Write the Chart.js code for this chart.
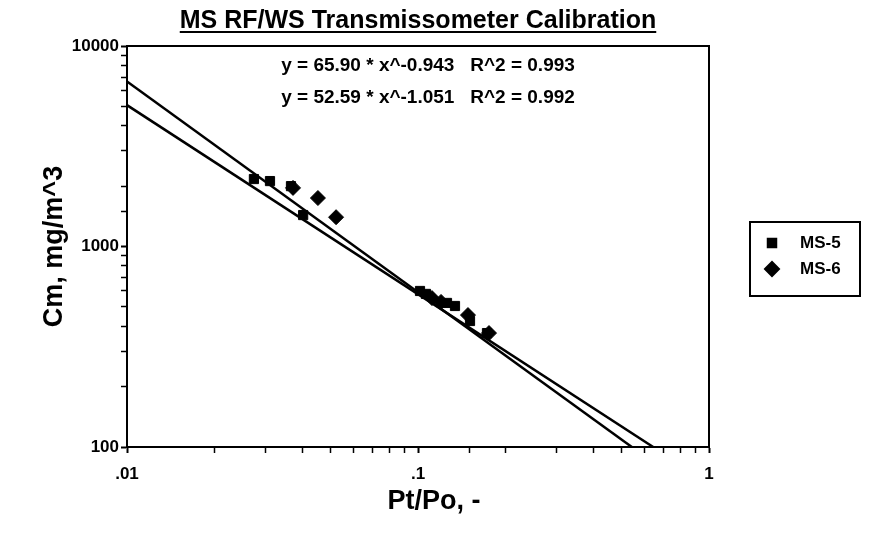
<!DOCTYPE html>
<html>
<head>
<meta charset="utf-8">
<script src="https://cdn.jsdelivr.net/npm/chart.js@4/dist/chart.umd.min.js"></script>
<style>
  html, body { margin: 0; padding: 0; background: #fff; }
</style>
</head>
<body>
<canvas id="myChart" width="872" height="539"></canvas>
<script>
const chartTitle = 'MS RF/WS Transmissometer Calibration';
const xTitle = 'Pt/Po, -';
const yTitle = 'Cm, mg/m^3';
const seriesNames = ['MS-5', 'MS-6'];

// MS-5 (squares)
const ms5X = [0.0273, 0.0310, 0.0366, 0.0403, 0.1016, 0.1065, 0.1258, 0.1340, 0.1509, 0.1726];
const ms5Y = [2170, 2120, 2000, 1435, 600, 580, 523, 505, 425, 370];
// MS-6 (diamonds)
const ms6X = [0.0372, 0.0453, 0.0523, 0.1117, 0.1200, 0.1485, 0.1754];
const ms6Y = [1960, 1745, 1400, 553, 529, 455, 370];

// fitted lines, endpoints
const fit1X = [0.01, 0.643];
const fit1Y = [5070, 100];
const fit2X = [0.01, 0.543];
const fit2Y = [6650, 100];
const fitLabels = ['y = 65.90 * x^-0.943   R^2 = 0.993', 'y = 52.59 * x^-1.051   R^2 = 0.992'];

const xTickValues = [0.01, 0.1, 1];
const xTickLabels = ['.01', '.1', '1'];
const yTickValues = [100, 1000, 10000];
const yTickLabels = ['100', '1000', '10000'];

const FONT = 'Liberation Sans, Arial, Helvetica, sans-serif';

function toPoints(xs, ys) {
    return xs.map((x, i) => ({ x: x, y: ys[i] }));
}

function decadeLabel(value, vals, labels) {
    for (let i = 0; i < vals.length; i++) {
        if (Math.abs(Math.log10(value) - Math.log10(vals[i])) < 1e-6) return labels[i];
    }
    return '';
}

function isDecade(value) {
    const lg = Math.log10(value);
    return Math.abs(lg - Math.round(lg)) < 1e-6;
}

const extras = {
    id: 'extras',
    afterDraw(chart) {
        const ctx = chart.ctx;
        const a = chart.chartArea;
        const cx = (a.left + a.right) / 2;
        const cy = (a.top + a.bottom) / 2;
        ctx.save();
        // frame
        ctx.strokeStyle = '#000';
        ctx.lineWidth = 2;
        ctx.strokeRect(a.left, a.top, a.right - a.left, a.bottom - a.top);

        // title, underlined
        ctx.fillStyle = '#000';
        ctx.font = 'bold 25px ' + FONT;
        ctx.textAlign = 'center';
        ctx.textBaseline = 'alphabetic';
        const ty = a.top - 18;
        ctx.fillText(chartTitle, cx, ty);
        const tw = ctx.measureText(chartTitle).width;
        ctx.fillRect(cx - tw / 2, ty + 3, tw, 2);

        // equations
        ctx.font = 'bold 19px ' + FONT;
        ctx.textBaseline = 'middle';
        ctx.fillText(fitLabels[0], cx + 10, a.top + 20);
        ctx.fillText(fitLabels[1], cx + 10, a.top + 52);

        // axis titles
        ctx.font = 'bold 27px ' + FONT;
        ctx.fillText(xTitle, cx + 16, a.bottom + 55);
        ctx.translate(55, cy);
        ctx.rotate(-Math.PI / 2);
        ctx.fillText(yTitle, 0, 0);
        ctx.setTransform(1, 0, 0, 1, 0, 0);

        // legend box
        const lx = a.right + 41, ly = 222, lw = 110, lh = 74;
        ctx.lineWidth = 2;
        ctx.strokeRect(lx, ly, lw, lh);
        const styles = ['rect', 'rectRot'];
        const radii = [6, 7];
        ctx.font = 'bold 17px ' + FONT;
        ctx.textAlign = 'left';
        for (let i = 0; i < seriesNames.length; i++) {
            const yy = ly + 21 + i * 26;
            ctx.fillStyle = '#000';
            Chart.helpers.drawPoint(ctx, { pointStyle: styles[i], radius: radii[i], borderWidth: 1 }, lx + 22, yy);
            ctx.fill();
            ctx.fillText(seriesNames[i], lx + 50, yy);
        }
        ctx.restore();
    }
};

const ctx = document.getElementById('myChart');

new Chart(ctx, {
    type: 'scatter',
    data: {
        datasets: [
            {
                label: seriesNames[0],
                data: toPoints(ms5X, ms5Y),
                pointStyle: 'rect',
                pointRadius: 6.5,
                backgroundColor: '#000',
                borderColor: '#000',
                order: 1
            },
            {
                label: seriesNames[1],
                data: toPoints(ms6X, ms6Y),
                pointStyle: 'rectRot',
                pointRadius: 7.5,
                backgroundColor: '#000',
                borderColor: '#000',
                order: 1
            },
            {
                type: 'line',
                label: 'fit 1',
                data: toPoints(fit1X, fit1Y),
                borderColor: '#000',
                borderWidth: 2.5,
                pointRadius: 0,
                order: 2
            },
            {
                type: 'line',
                label: 'fit 2',
                data: toPoints(fit2X, fit2Y),
                borderColor: '#000',
                borderWidth: 2.5,
                pointRadius: 0,
                order: 2
            }
        ]
    },
    options: {
        responsive: false,
        animation: false,
        devicePixelRatio: 1,
        layout: { padding: { left: 0, top: 46, right: 163, bottom: 0 } },
        plugins: {
            legend: { display: false },
            tooltip: { enabled: false },
            title: { display: false }
        },
        scales: {
            x: {
                type: 'logarithmic',
                min: 0.01,
                max: 1,
                afterFit: s => { s.height = 92; },
                border: { color: '#000', width: 2 },
                grid: {
                    drawOnChartArea: false,
                    color: '#000',
                    tickLength: 6,
                    tickWidth: c => (isDecade(c.tick.value) ? 2 : 1.5)
                },
                ticks: {
                    autoSkip: false,
                    maxRotation: 0,
                    color: '#000',
                    font: { family: FONT, size: 17, weight: 'bold' },
                    padding: 11,
                    callback: v => decadeLabel(v, xTickValues, xTickLabels)
                }
            },
            y: {
                type: 'logarithmic',
                min: 100,
                max: 10000,
                afterFit: s => { s.width = 127; },
                border: { color: '#000', width: 2 },
                grid: {
                    drawOnChartArea: false,
                    color: '#000',
                    tickLength: 6,
                    tickWidth: c => (isDecade(c.tick.value) ? 2 : 1.5)
                },
                ticks: {
                    autoSkip: false,
                    color: '#000',
                    font: { family: FONT, size: 17, weight: 'bold' },
                    padding: 2,
                    callback: v => decadeLabel(v, yTickValues, yTickLabels)
                }
            }
        }
    },
    plugins: [extras]
});
</script>
</body>
</html>
